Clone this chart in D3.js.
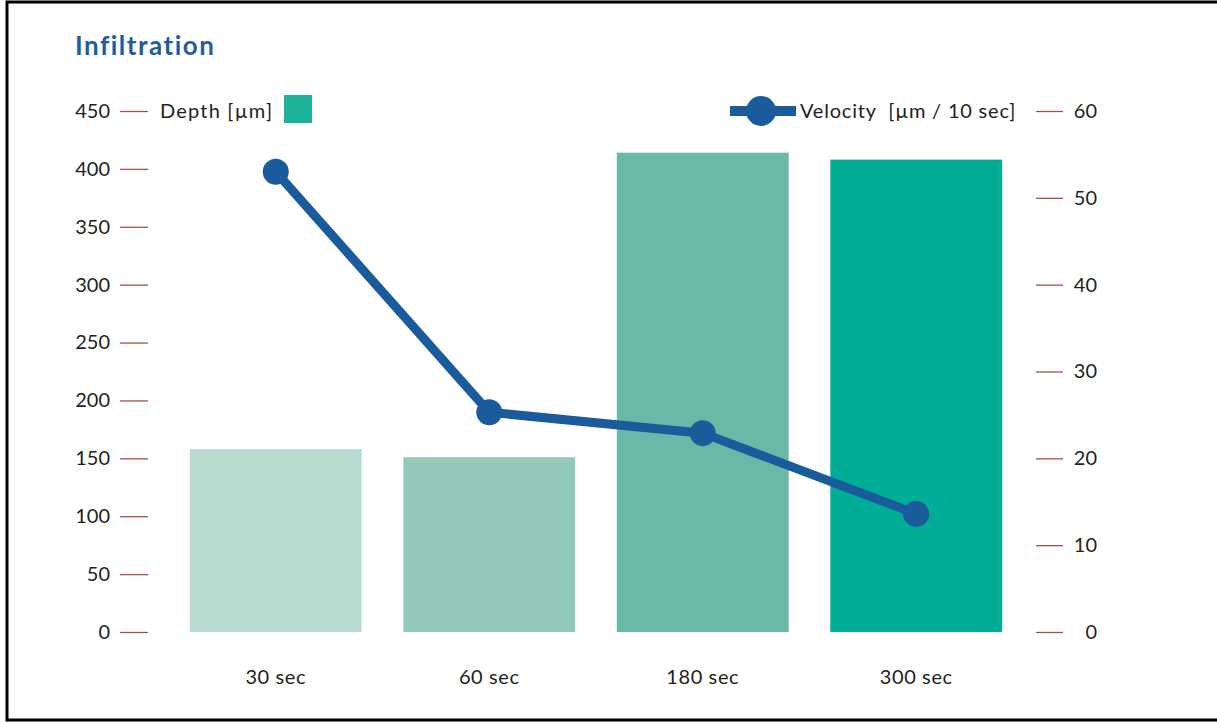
<!DOCTYPE html>
<html>
<head>
<meta charset="utf-8">
<script src="https://cdn.jsdelivr.net/npm/d3@7"></script>
<style>
  html, body { margin: 0; padding: 0; background: #fff; }
  svg { display: block; }
  text { font-family: Lato, "Open Sans", sans-serif; fill: #231f20; }
</style>
</head>
<body>
<svg id="chart" width="1217" height="722"></svg>
<script>
// Infiltration measurements
const categories = ["30 sec", "60 sec", "180 sec", "300 sec"];
const depth = [158, 151, 414, 408];          // µm
const velocity = [53.0, 25.3, 22.9, 13.6];   // µm / 10 sec
const depthTicks = [0, 50, 100, 150, 200, 250, 300, 350, 400, 450];
const velocityTicks = [0, 10, 20, 30, 40, 50, 60];
const barColors = ["#b9dcd1", "#93c9ba", "#69b9a8", "#00ae98"];

const svg = d3.select("#chart");
const W = 1217, H = 722;
const fontFamily = "Lato, 'Open Sans', sans-serif";

// frame
svg.append("path")
  .attr("d", `M${W},2 H7 V720 H${W}`)
  .attr("fill", "none").attr("stroke", "#000").attr("stroke-width", 3);

const plotTop = 111, plotBottom = 632;
const x = d3.scaleBand().domain(categories).range([169, 1023])
  .paddingInner(0.195).paddingOuter(0.0975);
const yL = d3.scaleLinear().domain([0, 450]).range([plotBottom, plotTop]);
const yR = d3.scaleLinear().domain([0, 60]).range([plotBottom, plotTop]);

// title
svg.append("text").attr("x", 75).attr("y", 55)
  .attr("font-size", 26).attr("font-weight", 700)
  .attr("letter-spacing", 1.5)
  .style("fill", "#1f5e9f").text("Infiltration");

// bars
svg.append("g").selectAll("rect").data(categories).join("rect")
  .attr("x", d => x(d)).attr("width", x.bandwidth())
  .attr("y", (d, i) => yL(depth[i]))
  .attr("height", (d, i) => yL(0) - yL(depth[i]))
  .attr("fill", (d, i) => barColors[i]);

const tickColor = "#a0544a";

// left axis
const left = svg.append("g").attr("transform", "translate(148,0)")
  .call(d3.axisLeft(yL).tickValues(depthTicks).tickSize(28).tickPadding(10));
left.select(".domain").remove();
left.selectAll(".tick line").attr("stroke", tickColor).attr("stroke-width", 1.3);
left.selectAll(".tick text").attr("font-size", 20).style("fill", "#231f20")
  .attr("font-family", fontFamily);

// right axis
const right = svg.append("g").attr("transform", "translate(1036,0)")
  .call(d3.axisRight(yR).tickValues(velocityTicks).tickSize(27).tickPadding(12));
right.select(".domain").remove();
right.selectAll(".tick line").attr("stroke", tickColor).attr("stroke-width", 1.3);
right.selectAll(".tick text").attr("font-size", 20).style("fill", "#231f20")
  .attr("text-anchor", "end").attr("x", 1097 - 1036)
  .attr("font-family", fontFamily);

// category labels
svg.append("g").selectAll("text").data(categories).join("text")
  .attr("x", d => x(d) + x.bandwidth() / 2).attr("y", 684)
  .attr("text-anchor", "middle").attr("font-size", 20)
  .attr("letter-spacing", 0.6).text(d => d);

// velocity line
const lineColor = "#195b9b";
const line = d3.line()
  .x((d, i) => x(categories[i]) + x.bandwidth() / 2)
  .y(d => yR(d));
svg.append("path").datum(velocity).attr("d", line)
  .attr("fill", "none").attr("stroke", lineColor).attr("stroke-width", 9)
  .attr("stroke-linejoin", "round");
svg.append("g").selectAll("circle").data(velocity).join("circle")
  .attr("cx", (d, i) => x(categories[i]) + x.bandwidth() / 2)
  .attr("cy", d => yR(d)).attr("r", 13).attr("fill", lineColor);

// legends
svg.append("text").attr("x", 160).attr("y", yL(450) + 7)
  .attr("font-size", 20).attr("letter-spacing", 1.2).text("Depth [µm]");
svg.append("rect").attr("x", 284).attr("y", 95).attr("width", 28).attr("height", 28)
  .attr("fill", "#1db39b");

svg.append("line").attr("x1", 730).attr("x2", 796)
  .attr("y1", yR(60)).attr("y2", yR(60))
  .attr("stroke", lineColor).attr("stroke-width", 10);
svg.append("circle").attr("cx", 761).attr("cy", yR(60)).attr("r", 15).attr("fill", lineColor);
svg.append("text").attr("x", 800).attr("y", yR(60) + 7)
  .attr("font-size", 20).attr("letter-spacing", 0.8).attr("xml:space", "preserve")
  .text("Velocity  [µm / 10 sec]");
</script>
</body>
</html>
